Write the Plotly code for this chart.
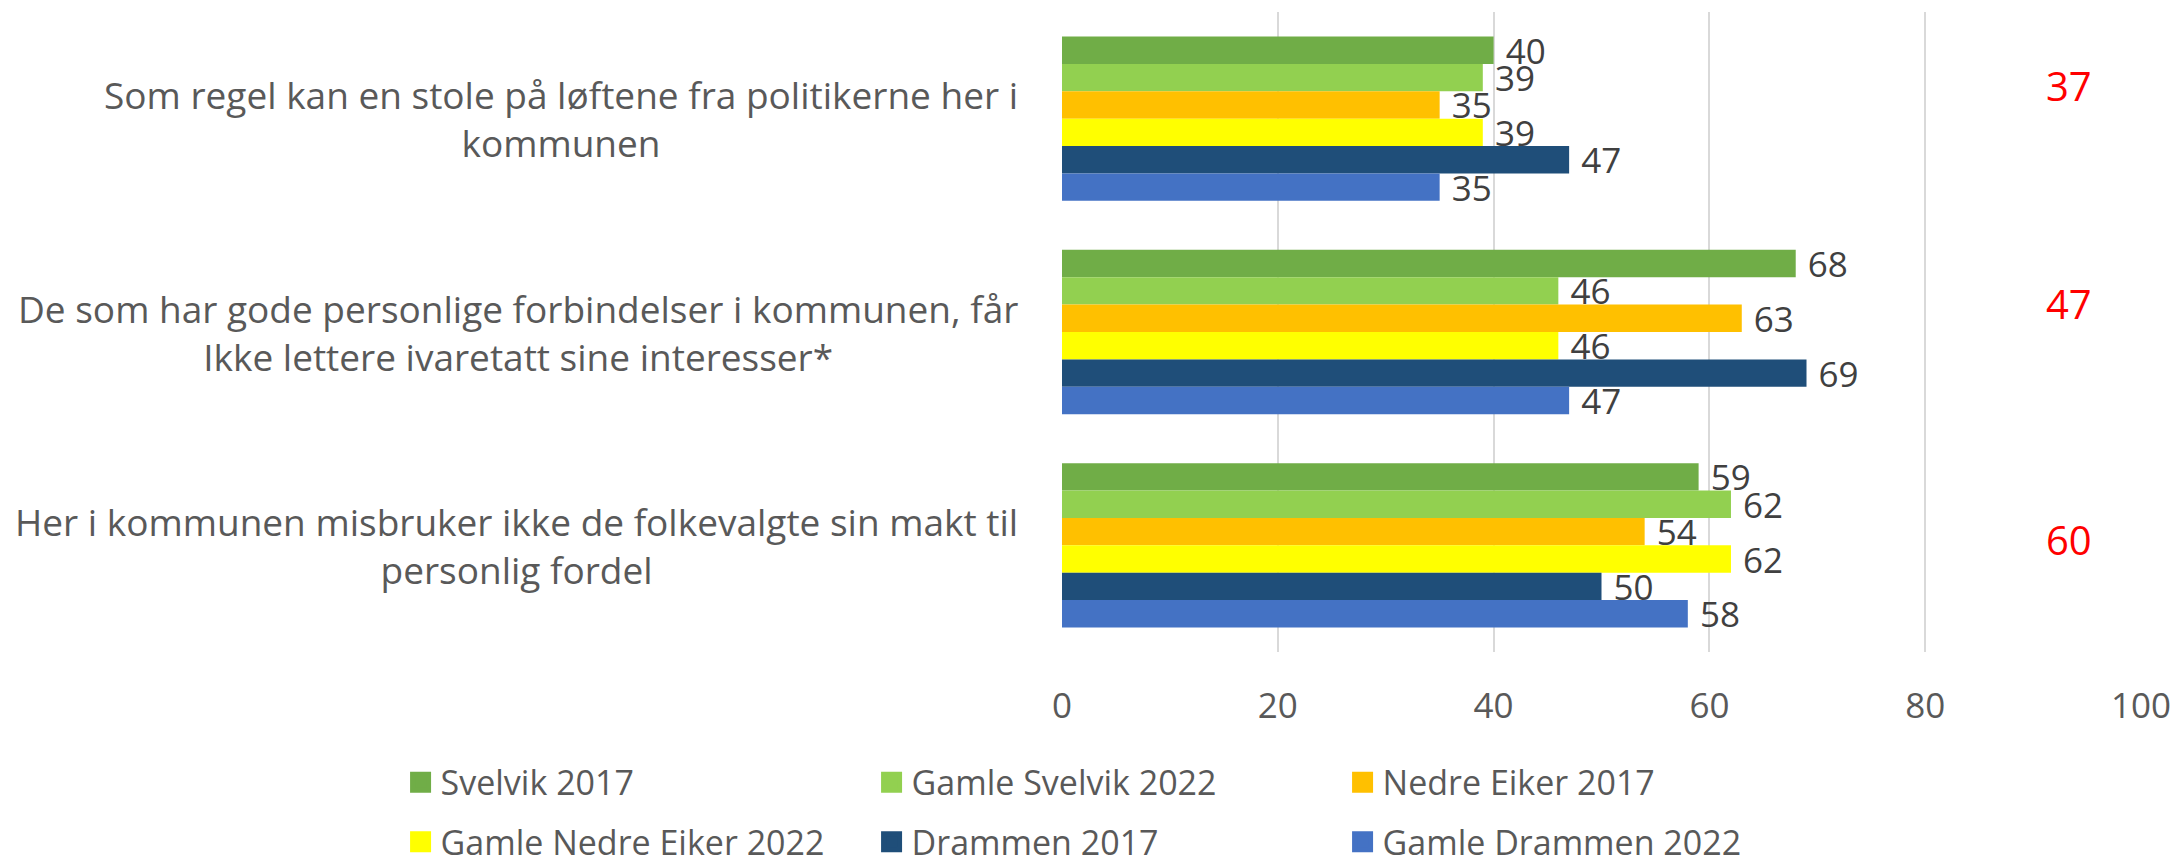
import plotly.graph_objects as go

categories = [
    "Som regel kan en stole på løftene fra politikerne her i<br>kommunen",
    "De som har gode personlige forbindelser i kommunen, får<br>Ikke lettere ivaretatt sine interesser*",
    "Her i kommunen misbruker ikke de folkevalgte sin makt til<br>personlig fordel",
]
cat_keys = ["c1", "c2", "c3"]

series_names = [
    "Svelvik 2017",
    "Gamle Svelvik 2022",
    "Nedre Eiker 2017",
    "Gamle Nedre Eiker 2022",
    "Drammen 2017",
    "Gamle Drammen 2022",
]
svelvik_2017 = [40, 68, 59]
gamle_svelvik_2022 = [39, 46, 62]
nedre_eiker_2017 = [35, 63, 54]
gamle_nedre_eiker_2022 = [39, 46, 62]
drammen_2017 = [47, 69, 50]
gamle_drammen_2022 = [35, 47, 58]
series_values = [svelvik_2017, gamle_svelvik_2022, nedre_eiker_2017,
                 gamle_nedre_eiker_2022, drammen_2017, gamle_drammen_2022]

red_values = [37, 47, 60]
x_ticks = [0, 20, 40, 60, 80, 100]

colors = ["#70AD47", "#92D050", "#FFC000", "#FFFF00", "#1F4E79", "#4472C4"]

FONT = "Open Sans"
fig = go.Figure()
for name, vals, col in zip(series_names, series_values, colors):
    fig.add_trace(go.Bar(
        y=cat_keys, x=vals, name=name, orientation="h",
        marker=dict(color=col, line=dict(width=0)),
        text=vals, texttemplate=" %{x}", textposition="outside",
        constraintext="none", cliponaxis=False,
        textfont=dict(family=FONT, size=35, color="#404040"),
        showlegend=False,
    ))

# legend entries with larger square swatches
for i, (name, col) in enumerate(zip(series_names, colors)):
    fig.add_trace(go.Scatter(
        x=[None], y=[None], mode="markers", name=name,
        marker=dict(symbol="square", size=16, color=col,
                    line=dict(color=col, width=5)),
        hoverinfo="skip",
        legend="legend" if i < 3 else "legend2",
    ))

# category labels (centered multi-line)
for key, label in zip(cat_keys, categories):
    fig.add_annotation(
        xref="paper", yref="y", x=0, y=key, xshift=-42,
        xanchor="right", yanchor="middle", align="center",
        text=label, showarrow=False,
        font=dict(family=FONT, size=37, color="#595959"),
    )

red_yshift = [33, 29, 6]
for key, v, ys in zip(cat_keys, red_values, red_yshift):
    fig.add_annotation(
        xref="x", yref="y", x=93.3, y=key, yshift=ys,
        xanchor="center", yanchor="middle", text=str(v), showarrow=False,
        font=dict(family=FONT, size=40, color="#FF0000"),
    )

legend_common = dict(
    orientation="h", xanchor="left", yanchor="middle",
    entrywidth=426, entrywidthmode="pixels", traceorder="normal",
    itemsizing="trace",
    font=dict(family=FONT, size=34, color="#595959"),
    itemclick=False, bgcolor="rgba(0,0,0,0)",
)

fig.update_layout(
    width=2170, height=858,
    margin=dict(l=1054, r=37, t=4, b=214, autoexpand=False),
    plot_bgcolor="white", paper_bgcolor="white",
    barmode="group", bargap=0.23, bargroupgap=0,
    showlegend=True,
    legend=dict(x=-0.613, y=-0.204, **legend_common),
    legend2=dict(x=-0.613, y=-0.297, **legend_common),
    xaxis=dict(
        range=[0, 100], tickvals=x_ticks,
        showgrid=True, gridcolor="#D9D9D9", gridwidth=1.5,
        zeroline=False, showline=False, automargin=False,
        ticks="", ticklabelstandoff=30,
        tickfont=dict(family=FONT, size=35, color="#595959"),
    ),
    yaxis=dict(
        type="category", categoryorder="array", categoryarray=cat_keys,
        autorange="reversed", showticklabels=False, showgrid=False,
        zeroline=False, showline=False, ticks="", automargin=False,
    ),
)

fig.write_html("out.html")
